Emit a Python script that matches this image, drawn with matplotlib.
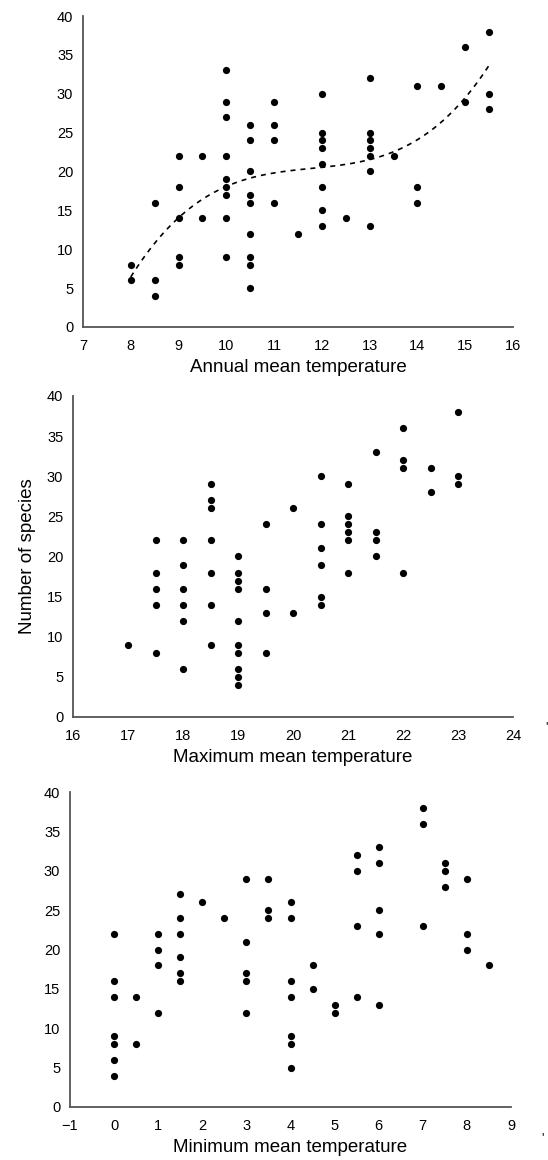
import numpy as np
import matplotlib.pyplot as plt

plt.rcParams['font.family'] = ['Liberation Sans', 'DejaVu Sans']

# annual mean temperature vs number of species
x_annual = [8, 8,
            8.5, 8.5, 8.5,
            9, 9, 9, 9, 9,
            9.5, 9.5,
            10, 10, 10, 10, 10, 10, 10, 10, 10,
            10.5, 10.5, 10.5, 10.5, 10.5, 10.5, 10.5, 10.5, 10.5,
            11, 11, 11, 11,
            11.5,
            12, 12, 12, 12, 12, 12, 12, 12,
            12.5,
            13, 13, 13, 13, 13, 13, 13,
            13.5,
            14, 14, 14,
            14.5,
            15, 15,
            15.5, 15.5, 15.5]
y_annual = [8, 6,
            16, 6, 4,
            22, 18, 14, 9, 8,
            22, 14,
            33, 29, 27, 22, 19, 18, 17, 14, 9,
            26, 24, 20, 17, 16, 12, 9, 8, 5,
            29, 26, 24, 16,
            12,
            30, 25, 24, 23, 21, 18, 15, 13,
            14,
            32, 25, 24, 23, 22, 20, 13,
            22,
            31, 18, 16,
            31,
            36, 29,
            38, 30, 28]

# maximum mean temperature
x_max = [17,
         17.5, 17.5, 17.5, 17.5, 17.5,
         18, 18, 18, 18, 18, 18,
         18.5, 18.5, 18.5, 18.5, 18.5, 18.5, 18.5,
         19, 19, 19, 19, 19, 19, 19, 19, 19, 19,
         19.5, 19.5, 19.5, 19.5,
         20, 20,
         20.5, 20.5, 20.5, 20.5, 20.5, 20.5,
         21, 21, 21, 21, 21, 21,
         21.5, 21.5, 21.5, 21.5,
         22, 22, 22, 22,
         22.5, 22.5,
         23, 23, 23]
y_max = [9,
         22, 18, 16, 14, 8,
         22, 19, 16, 14, 12, 6,
         29, 27, 26, 22, 18, 14, 9,
         20, 18, 17, 16, 12, 9, 8, 6, 5, 4,
         24, 16, 13, 8,
         26, 13,
         30, 24, 21, 19, 15, 14,
         29, 25, 24, 23, 22, 18,
         33, 23, 22, 20,
         36, 32, 31, 18,
         31, 28,
         38, 30, 29]

# minimum mean temperature
x_min = [0, 0, 0, 0, 0, 0, 0,
         0.5, 0.5,
         1, 1, 1, 1,
         1.5, 1.5, 1.5, 1.5, 1.5, 1.5,
         2,
         2.5,
         3, 3, 3, 3, 3,
         3.5, 3.5, 3.5,
         4, 4, 4, 4, 4, 4, 4,
         4.5, 4.5,
         5, 5,
         5.5, 5.5, 5.5, 5.5,
         6, 6, 6, 6, 6,
         7, 7, 7,
         7.5, 7.5, 7.5,
         8, 8, 8,
         8.5]
y_min = [22, 16, 14, 9, 8, 6, 4,
         14, 8,
         22, 20, 18, 12,
         27, 24, 22, 19, 17, 16,
         26,
         24,
         29, 21, 17, 16, 12,
         29, 25, 24,
         26, 24, 16, 14, 9, 8, 5,
         18, 15,
         13, 12,
         32, 30, 23, 14,
         33, 31, 25, 22, 13,
         38, 36, 23,
         31, 30, 28,
         29, 22, 20,
         18]

W, H = 548, 1160
fig = plt.figure(figsize=(W / 100, H / 100), dpi=100)

def add_ax(left, top, right, bottom):
    return fig.add_axes([left / W, 1 - bottom / H, (right - left) / W, (bottom - top) / H])

ax1 = add_ax(83, 16, 513, 327)
ax2 = add_ax(73, 396, 513, 717)
ax3 = add_ax(70, 792, 511, 1107)

panels = [(ax1, x_annual, y_annual, (7, 16), 'Annual mean temperature'),
          (ax2, x_max, y_max, (16, 24), 'Maximum mean temperature'),
          (ax3, x_min, y_min, (-1, 9), 'Minimum mean temperature')]

for ax, xs, ys, xl, lab in panels:
    ax.scatter(xs, ys, s=27, color='black', zorder=3, linewidths=0)
    ax.set_xlim(*xl)
    ax.set_ylim(0, 40)
    ax.set_xticks(np.arange(xl[0], xl[1] + 1, 1))
    ax.set_yticks(np.arange(0, 41, 5))
    for s in ['top', 'right']:
        ax.spines[s].set_visible(False)
    for s in ['left', 'bottom']:
        ax.spines[s].set_color('#555555')
        ax.spines[s].set_linewidth(1.3)
    ax.tick_params(axis='x', length=0, labelsize=10.5, pad=9)
    ax.tick_params(axis='y', length=0, labelsize=10.5, pad=7)
    ax.set_xlabel(lab, fontsize=13.5, labelpad=4)

# trendline (3rd order polynomial) in the first panel
coef = np.polyfit(x_annual, y_annual, 3)
xt = np.linspace(min(x_annual), max(x_annual), 100)
ax1.plot(xt, np.polyval(coef, xt), color='black', linestyle=(0, (3, 3)), linewidth=1.2)

ax2.set_ylabel('Number of species', fontsize=13.5, labelpad=8)

fig.text(546 / W, 1 - 727 / H, "'", fontsize=9, ha='center', va='center')
fig.text(543 / W, 1 - 1138 / H, "'", fontsize=9, ha='center', va='center')

fig.savefig('out.png', dpi=100)
